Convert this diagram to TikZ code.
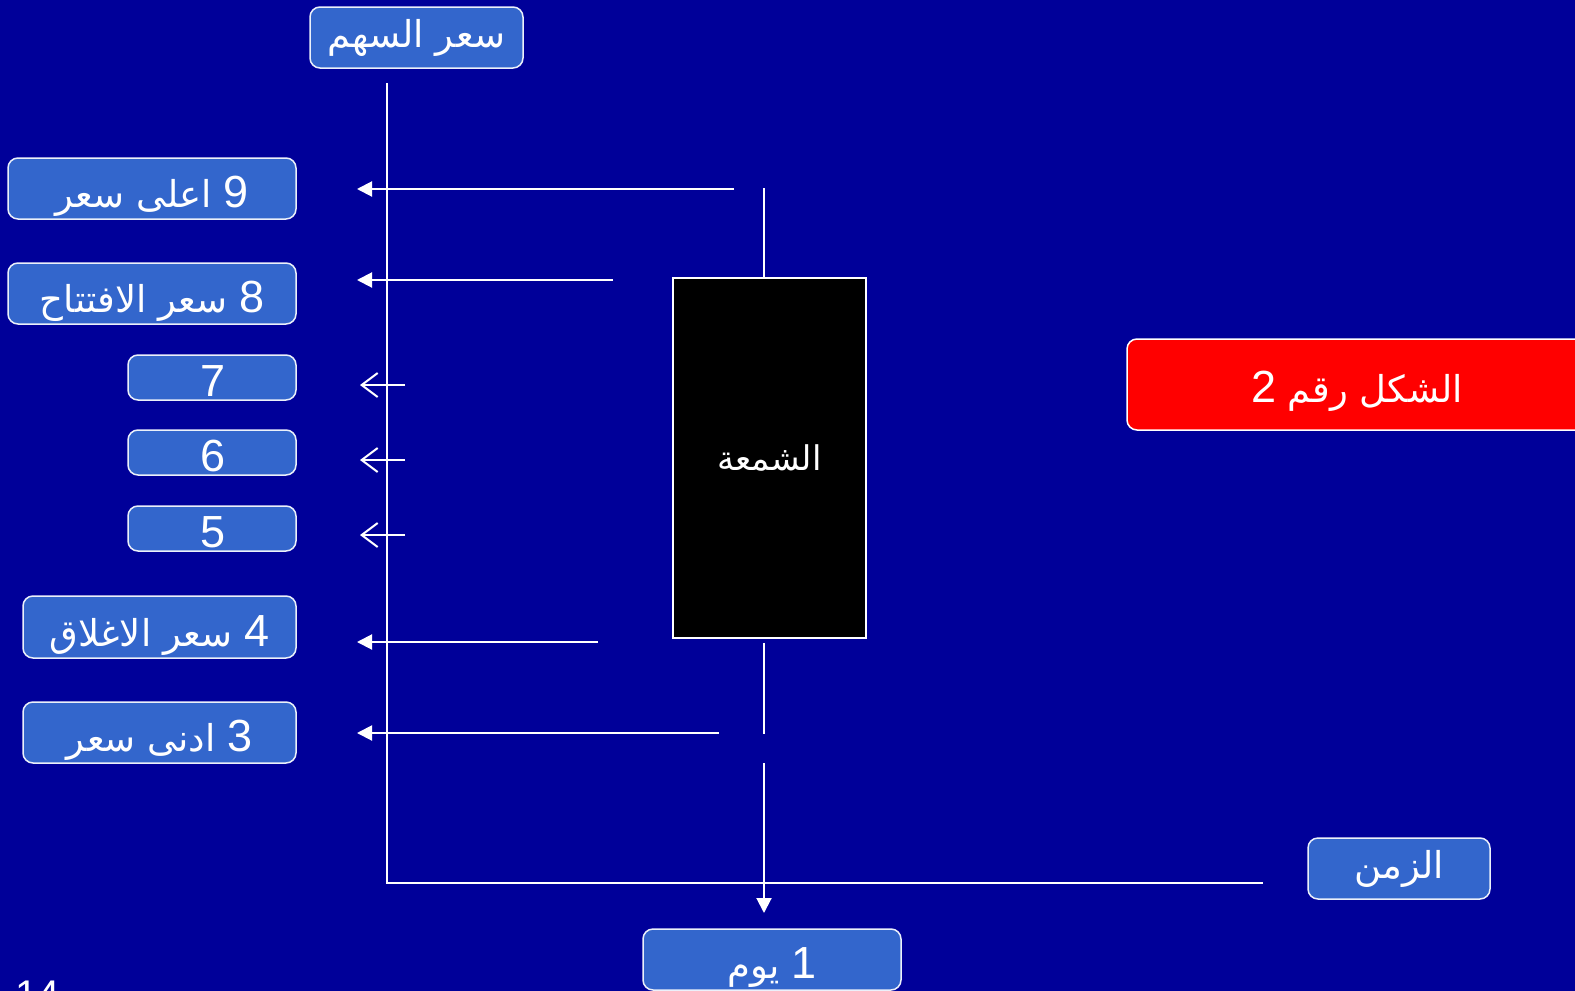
\documentclass[tikz,border=0pt]{standalone}
\usepackage{fontspec}
\setmainfont{Liberation Sans}
\newfontfamily\arabicfont[Script=Arabic]{DejaVu Sans}
\newfontfamily\latinfont{Liberation Sans}
\TeXXeTstate=1
\usetikzlibrary{arrows.meta}
\definecolor{bg}{RGB}{0,0,153}
\definecolor{boxblue}{RGB}{51,102,204}
\definecolor{boxred}{RGB}{255,0,0}
\newcommand{\dg}[1]{{\latinfont\fontsize{45}{48}\selectfont #1}}
\tikzset{
  lbl/.style={draw=white!90!boxblue, line width=1.5pt, rounded corners=10pt, fill=boxblue,
    text=white, inner sep=0pt, anchor=center, font=\arabicfont\fontsize{37}{42}\selectfont},
  numlbl/.style={lbl, text height=40pt, text depth=2pt},
  redlbl/.style={lbl, text height=40pt, text depth=4pt, fill=boxred, draw=white},
  axisline/.style={draw=white, line width=2pt},
  solidarrow/.style={draw=white, line width=2pt, -{Triangle[length=15pt,width=15pt]}},
  openarrow/.style={draw=white, line width=2pt, -{Straight Barb[length=16pt,width=24pt,line width=2pt]}},
  dig/.style={font=\latinfont\fontsize{45}{48}\selectfont}
}
\begin{document}
\begin{tikzpicture}[x=1pt,y=-1pt]
\useasboundingbox (0,0) rectangle (1575,991);
\clip (0,0) rectangle (1575,991);
\fill[bg] (0,0) rectangle (1575,991);

% axes
\coordinate (ytop) at (387,83);
\coordinate (origin) at (387,883);
\coordinate (xend) at (1263,883);
\draw[axisline] (ytop) -- (origin) -- (xend);

% labels
\node[lbl, minimum width=213pt, minimum height=61pt] (price) at (416.5,37.5) {\beginR سعر السهم\endR};
\node[numlbl, minimum width=288pt, minimum height=61pt] (high) at (152,188.5) {\beginR\dg{9} اعلى سعر\endR};
\node[numlbl, minimum width=288pt, minimum height=61pt] (open) at (152,293.5) {\beginR\dg{8} سعر الافتتاح\endR};
\node[numlbl, minimum width=168pt, minimum height=45pt, dig] (l7) at (212,377.5) {\hspace*{3pt}7};
\node[numlbl, minimum width=168pt, minimum height=45pt, dig] (l6) at (212,452.5) {\hspace*{3pt}6};
\node[numlbl, minimum width=168pt, minimum height=45pt, dig] (l5) at (212,528.5) {\hspace*{3pt}5};
\node[numlbl, minimum width=273pt, minimum height=62pt] (close) at (159.5,627) {\beginR\dg{4} سعر الاغلاق\endR};
\node[numlbl, minimum width=273pt, minimum height=61pt] (low) at (159.5,732.5) {\beginR\dg{3} ادنى سعر\endR};
\node[numlbl, minimum width=258pt, minimum height=61pt] (day) at (772,959.5) {\beginR\dg{1} يوم\endR};
\node[lbl, minimum width=182pt, minimum height=61pt] (time) at (1399,868.5) {\beginR الزمن\endR};
\node[redlbl, minimum width=460pt, minimum height=91pt] (fig) at (1357,384.5) {\beginR الشكل رقم \dg{2}\endR};

% candle
\node[draw=white, line width=1.5pt, fill=black, minimum width=193pt, minimum height=360pt, inner sep=0pt,
  text=white, font=\arabicfont\fontsize{34}{38}\selectfont] (candle) at (769.5,458) {\beginR الشمعة\endR};
\coordinate (wicktop) at (764,188);
\coordinate (wickbot) at (764,734);
\draw[axisline] (wicktop) -- (candle.north -| wicktop);
\draw[axisline] ([yshift=-4pt]candle.south -| wickbot) -- (wickbot);
\coordinate (daystart) at (764,763);
\coordinate (daytip) at (764,913);
\draw[solidarrow] (daystart) -- (daytip);

% price arrows
\coordinate (a9s) at (734,189); \coordinate (a9e) at (357,189);
\coordinate (a8s) at (613,280); \coordinate (a8e) at (357,280);
\coordinate (a4s) at (598,642); \coordinate (a4e) at (357,642);
\coordinate (a3s) at (719,733); \coordinate (a3e) at (357,733);
\draw[solidarrow] (a9s) -- (a9e);
\draw[solidarrow] (a8s) -- (a8e);
\draw[solidarrow] (a4s) -- (a4e);
\draw[solidarrow] (a3s) -- (a3e);
\coordinate (a7s) at (405,385); \coordinate (a7e) at (360,385);
\coordinate (a6s) at (405,460); \coordinate (a6e) at (360,460);
\coordinate (a5s) at (405,535); \coordinate (a5e) at (360,535);
\draw[openarrow] (a7s) -- (a7e);
\draw[openarrow] (a6s) -- (a6e);
\draw[openarrow] (a5s) -- (a5e);

% slide number (cut off, as in the original)
\node[text=white, font=\latinfont\fontsize{40}{44}\selectfont, anchor=north west, inner sep=0pt] (num) at (15,981) {14};
\end{tikzpicture}
\end{document}
